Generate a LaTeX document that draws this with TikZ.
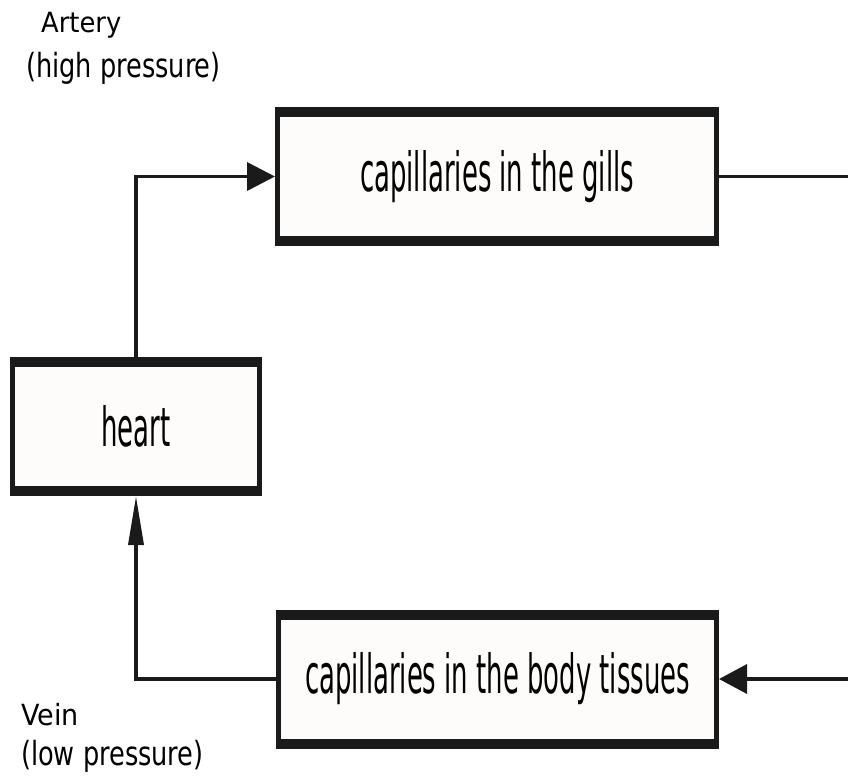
\documentclass[tikz,border=0pt]{standalone}
\usepackage{graphicx}
\usepackage{fontspec}
\setmainfont{DejaVu Sans}
\usepackage{tikz}
\usetikzlibrary{arrows.meta, positioning}
\usepackage{xcolor}
\definecolor{boxfill}{RGB}{253,252,250}
\definecolor{ink}{RGB}{26,26,26}
\newcommand{\boxtext}[1]{\scalebox{0.48}[1]{\fontsize{54}{60}\selectfont #1}}
\newcommand{\sidetext}[2]{\scalebox{1}[1.08]{\fontsize{#1}{#1}\selectfont #2}}
\newcommand{\talltext}[1]{\scalebox{1}[1.3]{\fontsize{25.6}{30}\selectfont #1}}
\tikzset{
  organ/.style={draw=ink, fill=boxfill, line width=5pt, minimum height=134pt, inner sep=0pt,
    path picture={
      \fill[ink] (path picture bounding box.north west) rectangle ([yshift=-7.5pt]path picture bounding box.north east);
      \fill[ink] (path picture bounding box.south west) rectangle ([yshift=7.5pt]path picture bounding box.south east);
    }},
  flow/.style={draw=ink, line width=3.5pt},
  side/.style={anchor=base west, inner sep=0pt}
}

\begin{document}
\begin{tikzpicture}[x=1pt, y=-1pt]
\fill[white] (0,0) rectangle (848,782);
\useasboundingbox (0,0) rectangle (848,782);

% Boxes
\node[organ, minimum width=439pt] (gills) at (497,176.5) {\boxtext{capillaries in the gills}};
\node[organ, minimum width=247pt] (heart) at (136,426.5) {\boxtext{heart}};
\node[organ, minimum width=438pt] (body) at (497.5,679) {\boxtext{capillaries in the body tissues}};

% Loose ends at the right edge
\coordinate (gillsout) at (848,176.5);
\coordinate (bodyin) at (848,679);

% Arrows
\draw[flow, -{Triangle[length=28pt,width=28pt]}] (heart.north) |- (gills.west);
\draw[flow] (gills.east) -- (gillsout);
\draw[flow, -{Triangle[length=28pt,width=29pt]}] (bodyin) -- (body.east);
\draw[flow, -{Triangle[length=49pt,width=15pt]}] (body.west) -| (heart.south);

% Labels
\node[side] (artery) at (41,32.5) {\sidetext{25.8}{Artery}};
\node[side] (highp) at (26,77) {\talltext{(high pressure)}};
\node[side] (vein) at (21,725) {\sidetext{27}{Vein}};
\node[side] (lowp) at (21,765) {\talltext{(low pressure)}};
\end{tikzpicture}
\end{document}
